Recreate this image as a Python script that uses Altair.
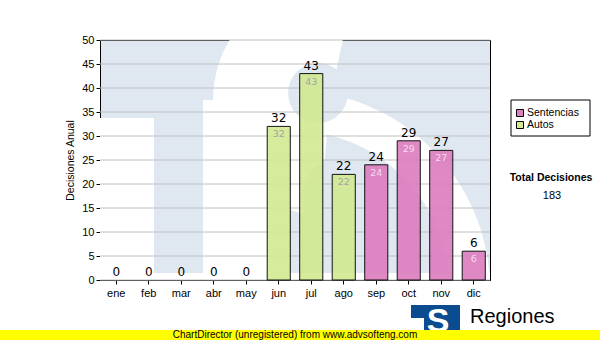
import math
import altair as alt
import pandas as pd

# ---------------- data ----------------
months = ["ene", "feb", "mar", "abr", "may", "jun", "jul", "ago", "sep", "oct", "nov", "dic"]
sentencias = [0, 0, 0, 0, 0, 0, 0, 0, 24, 29, 27, 6]
autos = [0, 0, 0, 0, 0, 32, 43, 22, 0, 0, 0, 0]
series_names = ["Sentencias", "Autos"]
y_ticks = [0, 5, 10, 15, 20, 25, 30, 35, 40, 45, 50]
y_title = "Decisiones Anual"
total_title = "Total Decisiones"
footer_text = "ChartDirector (unregistered) from www.advsofteng.com"
brand_text = "Regiones"

# ---------------- styles ----------------
series_colors = ["#dc7ec0", "#d3ea93"]
inner_colors = {"Sentencias": "#f7dcef", "Autos": "#a3a3a3"}
FONT = "Liberation Sans"
VFONT = "DejaVu Sans"
W, H = 390, 240
WM_BLUE = "#dfe8f1"

rows = []
for i, m in enumerate(months):
    for name, vals in (("Sentencias", sentencias), ("Autos", autos)):
        rows.append({"month": m, "serie": name, "value": vals[i]})
df = pd.DataFrame(rows)
bars_df = df[df["value"] > 0].copy()
bars_df["inner_color"] = bars_df["serie"].map(inner_colors)
tot_df = pd.DataFrame({"month": months, "total": [s + a for s, a in zip(sentencias, autos)]})
grand_total = int(sum(sentencias) + sum(autos))
info_df = pd.DataFrame({"title": [total_title], "total": [str(grand_total)],
                        "footer": [footer_text], "brand": [brand_text]})
legend_df = pd.DataFrame({"serie": series_names})
one = pd.DataFrame({"k": [0]})

x_scale = alt.Scale(domain=months, paddingInner=0.29, paddingOuter=0.145)
y_scale = alt.Scale(domain=[0, 50], nice=False, zero=True)
color_scale = alt.Scale(domain=series_names, range=series_colors)

x_axis = alt.Axis(title=None, labelAngle=0, labelFont=FONT, labelFontSize=11,
                  labelColor="black", tickColor="black", tickSize=4,
                  domainColor="black", labelPadding=3)
y_axis = alt.Axis(values=y_ticks, title=y_title, titleFont=FONT, titleFontSize=10.5,
                  titleFontWeight="normal", titleColor="black", titlePadding=6,
                  labelFont=FONT, labelFontSize=11, labelColor="black",
                  tickColor="black", tickSize=4, domainColor="black",
                  labelPadding=2, grid=False)

# ---------------- watermark (decorative, pixel placed) ----------------
def wm_rect(x, x2, y, y2, color="white"):
    return alt.Chart(one).mark_rect(color=color, clip=True).encode(
        x=alt.value(x), x2=alt.value(x2), y=alt.value(y), y2=alt.value(y2))

def wm_arc(cx, cy, r, r2, t1, t2, color="white"):
    return alt.Chart(one).mark_arc(color=color, clip=True, radius=r, radius2=r2,
                                   theta=math.radians(t1), theta2=math.radians(t2)).encode(
        x=alt.value(cx), y=alt.value(cy))

watermark = [
    wm_rect(0, 54, 78, 240),                    # notch left of the T stem
    wm_rect(54, 390, 233, 240),                 # strip under the stem
    wm_arc(230, 60, 117, 0, 185, 372),          # upper bowl of the S
    wm_rect(103, 190, 60, 233),                 # body right of the stem
    wm_arc(190, 250, 200, 160, 5, 95),          # S sweep towards lower right
    wm_arc(218, 53, 30, 0, 0, 360, WM_BLUE),    # upper counter
    wm_arc(250, 160, 48, 24, 195, 345, WM_BLUE),  # lower counter crescent
]

# ---------------- grid ----------------
grid = alt.Chart(pd.DataFrame({"t": y_ticks})).mark_rule(color="#c0c0c0", strokeWidth=1).encode(
    y=alt.Y("t:Q", scale=y_scale, axis=y_axis))

# ---------------- bars ----------------
bars = alt.Chart(bars_df).mark_bar(stroke="black", strokeWidth=1, opacity=0.92).encode(
    x=alt.X("month:N", sort=months, scale=x_scale, axis=x_axis),
    y=alt.Y("value:Q", scale=y_scale, stack=None, axis=y_axis),
    color=alt.Color("serie:N", scale=color_scale, legend=None),
)

top_labels = alt.Chart(tot_df).mark_text(font=VFONT, fontSize=12, color="black",
                                         baseline="bottom", dy=-1).encode(
    x=alt.X("month:N", sort=months, scale=x_scale, axis=x_axis),
    y=alt.Y("total:Q", scale=y_scale, axis=y_axis),
    text="total:Q")

inner_labels = alt.Chart(bars_df).mark_text(font=VFONT, fontSize=9.5,
                                            baseline="top", dy=3).encode(
    x=alt.X("month:N", sort=months, scale=x_scale, axis=x_axis),
    y=alt.Y("value:Q", scale=y_scale, axis=y_axis),
    text="value:Q",
    color=alt.Color("inner_color:N", scale=None))

# ---------------- legend (drawn box) ----------------
leg_box = alt.Chart(one).mark_rect(fill="white", stroke="black", strokeWidth=1).encode(
    x=alt.value(411), x2=alt.value(490), y=alt.value(60), y2=alt.value(96))
legend_layers = [leg_box]
for i, (name, col) in enumerate(zip(series_names, series_colors)):
    ly = 73 + 12 * i
    sub = legend_df[legend_df["serie"] == name]
    legend_layers.append(
        alt.Chart(sub).mark_square(size=49, stroke="black", strokeWidth=1, opacity=1,
                                   fill=col).encode(x=alt.value(420), y=alt.value(ly)))
    legend_layers.append(
        alt.Chart(sub).mark_text(font=FONT, fontSize=10.5, color="black",
                                 align="left", baseline="middle").encode(
            x=alt.value(427), y=alt.value(ly), text="serie:N"))

# ---------------- side texts ----------------
total_t = alt.Chart(info_df).mark_text(font=FONT, fontSize=10.5, fontWeight="bold",
                                       color="black", align="center", baseline="middle").encode(
    x=alt.value(451), y=alt.value(138), text="title:N")
total_v = alt.Chart(info_df).mark_text(font=FONT, fontSize=11, color="black",
                                       align="center", baseline="middle").encode(
    x=alt.value(452), y=alt.value(156), text="total:N")

# ---------------- footer ----------------
logo = alt.Chart(one).mark_rect(color="#0b4c91").encode(
    x=alt.value(311), x2=alt.value(360), y=alt.value(265), y2=alt.value(292))
logo_notch = alt.Chart(one).mark_rect(color="white").encode(
    x=alt.value(311), x2=alt.value(324), y=alt.value(278), y2=alt.value(292))
logo_s = alt.Chart(one).mark_text(text="S", font=FONT, fontSize=34, fontWeight="bold",
                                  color="white", align="center", baseline="middle").encode(
    x=alt.value(338), y=alt.value(282))
brand = alt.Chart(info_df).mark_text(font=FONT, fontSize=20, color="black",
                                     align="left", baseline="alphabetic").encode(
    x=alt.value(370), y=alt.value(283), text="brand:N")
yellow = alt.Chart(one).mark_rect(color="#ffff00").encode(
    x=alt.value(-100), x2=alt.value(500), y=alt.value(290), y2=alt.value(300))
footer = alt.Chart(info_df).mark_text(font=FONT, fontSize=10, color="black",
                                      align="center", baseline="middle").encode(
    x=alt.value(195), y=alt.value(295), text="footer:N")

chart = alt.layer(
    *watermark, grid, bars, top_labels, inner_labels,
    *legend_layers, total_t, total_v,
    logo, logo_notch, logo_s, brand, yellow, footer
).properties(
    width=W, height=H, autosize=alt.AutoSizeParams(type="none"),
    padding={"left": 100, "top": 40, "right": 110, "bottom": 60},
).configure(
    background="white"
).configure_view(
    fill=WM_BLUE, stroke="black", strokeWidth=1
)

chart.save("out.html", embed_options={"renderer": "svg", "actions": False})
